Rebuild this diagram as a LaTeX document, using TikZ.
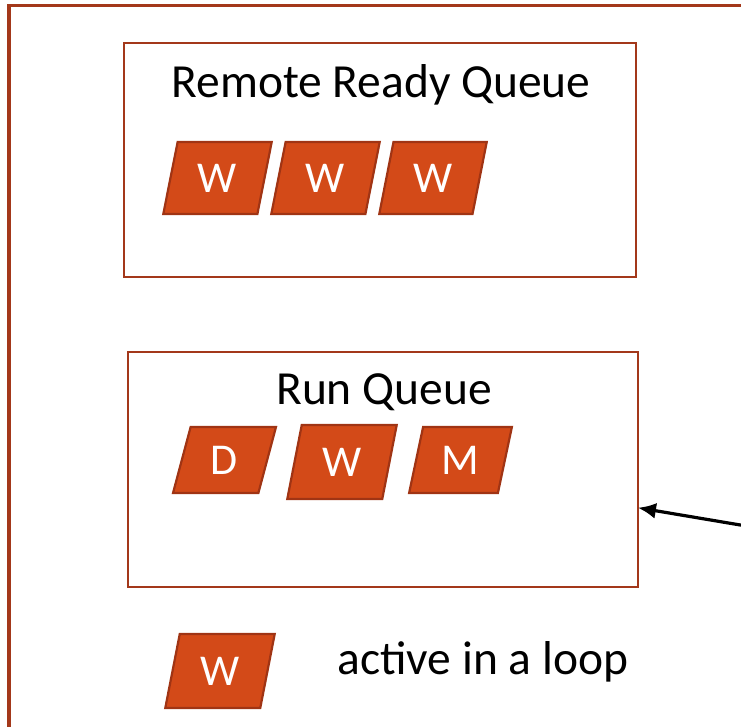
\documentclass[tikz,border=0pt]{standalone}
\usepackage{fontspec}
\setmainfont{Carlito}
\usetikzlibrary{shapes.geometric,arrows.meta}
\definecolor{rust}{RGB}{163,56,26}
\definecolor{tilefill}{RGB}{211,74,24}
\definecolor{tileedge}{RGB}{160,52,20}
\tikzset{
  queuebox/.style={draw=rust,line width=2.8pt,minimum width=#1,inner sep=0pt},
  tile/.style={shape=trapezium,trapezium stretches=true,
    trapezium left angle=76,trapezium right angle=104,
    fill=tilefill,draw=tileedge,line width=2.2pt,inner sep=0pt,
    text=white,font=\fontsize{44}{46}\selectfont},
  title/.style={font=\fontsize{47.5}{50}\selectfont,anchor=base},
}
\begin{document}
\begin{tikzpicture}[x=1pt,y=-1pt]
\useasboundingbox (0,0) rectangle (741,726);
\begin{scope}
\clip (0,0) rectangle (741,726);
% outer frame, running past the right and bottom edges
\draw[rust,line width=3.4pt] (9,5.5) rectangle (780,780);

% remote ready queue
\node[queuebox=512pt,minimum height=234pt] (rrq) at (380,160) {};
\node[title] (rrqt) at (381,97) {Remote Ready Queue};
\node[tile,minimum width=109pt,minimum height=72pt] (rw1) at (217.5,178) {W};
\node[tile,minimum width=109pt,minimum height=72pt] (rw2) at (325.5,178) {W};
\node[tile,minimum width=108pt,minimum height=72pt] (rw3) at (433,178) {W};

% run queue
\node[queuebox=510pt,minimum height=235pt] (runq) at (383,469.5) {};
\node[title] (runqt) at (384,404) {Run Queue};
\node[tile,minimum width=103pt,minimum height=66pt] (qd) at (224.5,460) {D};
\node[tile,minimum width=110pt,minimum height=74pt] (qw) at (342,462) {W};
\node[tile,minimum width=103pt,minimum height=66pt] (qm) at (460.5,460) {M};

% incoming pointer
\coordinate (src) at (770,530);
\draw[line width=3.2pt,shorten >=-1.5pt,-{Latex[length=18pt,width=16pt]}] (src) -- ([yshift=-38.5pt]runq.east);

% legend
\node[tile,minimum width=110pt,minimum height=74pt] (lw) at (220,671) {W};
\node[font=\fontsize{47.5}{50}\selectfont,anchor=base west] (lt) at (334,674) {active in a loop};
\end{scope}
\end{tikzpicture}
\end{document}
